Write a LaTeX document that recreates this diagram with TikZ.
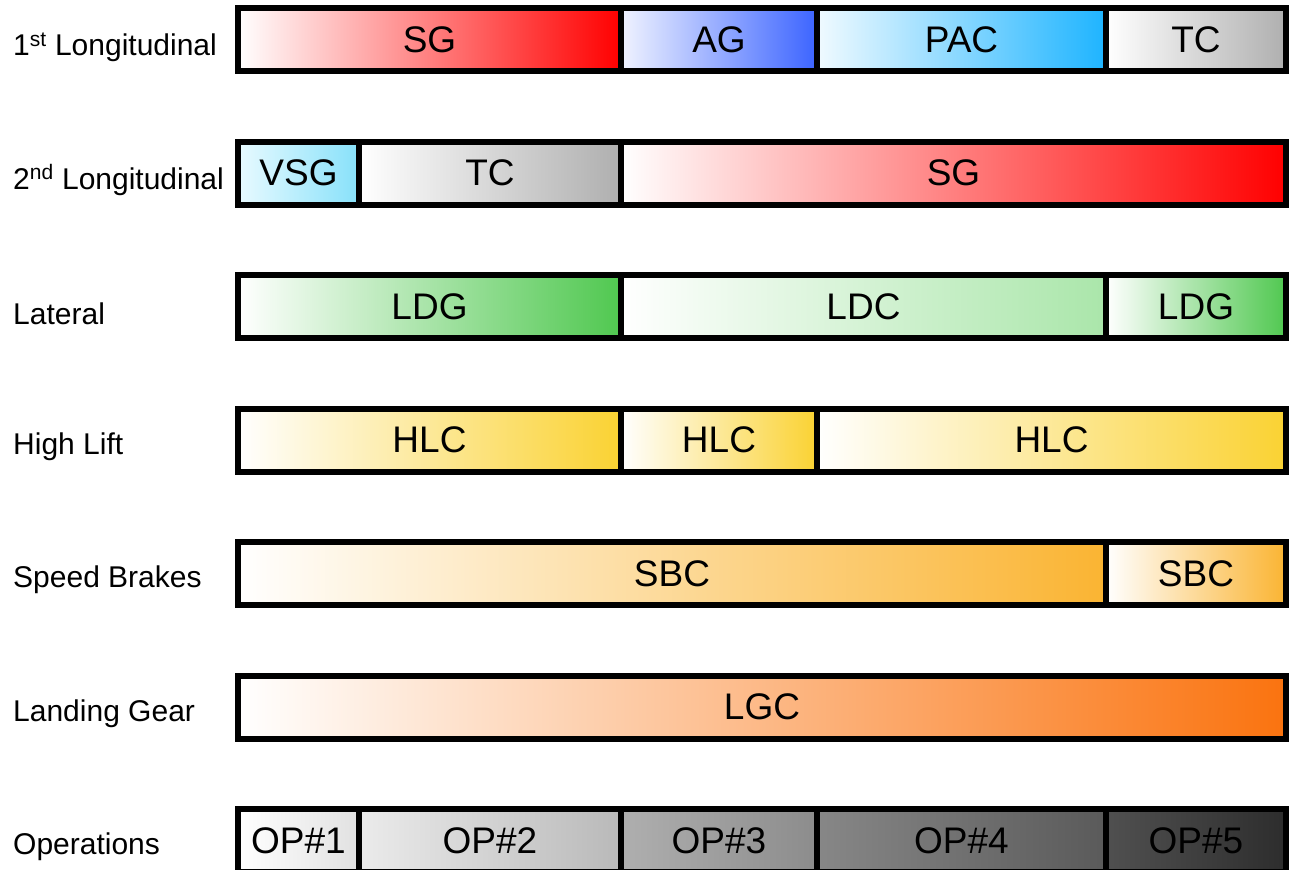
\documentclass[tikz,border=0pt]{standalone}
\usepackage{fontspec}
\setmainfont{Liberation Sans}
\begin{document}
\begin{tikzpicture}[x=1pt,y=-1pt,
  seg/.style={draw=black, line width=6pt, inner sep=0pt, outer sep=0pt,
    anchor=north west, minimum height=63pt, font=\fontsize{37}{40}\selectfont},
  rowlabel/.style={anchor=west, inner sep=0pt, font=\fontsize{30}{34}\selectfont},
  sg/.style={left color=white, right color=red},
  ag/.style={left color={rgb,255:red,240;green,243;blue,255}, right color={rgb,255:red,60;green,100;blue,255}},
  pac/.style={left color={rgb,255:red,240;green,250;blue,255}, right color={rgb,255:red,30;green,180;blue,255}},
  tc/.style={left color=white, right color={rgb,255:red,175;green,175;blue,175}},
  vsg/.style={left color={rgb,255:red,232;green,250;blue,255}, right color={rgb,255:red,135;green,225;blue,250}},
  ldg/.style={left color=white, right color={rgb,255:red,80;green,200;blue,80}},
  ldc/.style={left color=white, right color={rgb,255:red,170;green,230;blue,170}},
  hlc/.style={left color=white, right color={rgb,255:red,250;green,210;blue,50}},
  sbc/.style={left color=white, right color={rgb,255:red,250;green,180;blue,50}},
  lgc/.style={left color=white, right color={rgb,255:red,250;green,115;blue,15}},
]
\useasboundingbox (0,0) rectangle (1291,870);

% column edges: 238, 359, 621, 817, 1106, 1286
% row tops: 8, 141.5, 275, 408.5, 542, 675.5, 809

% row labels
\node[rowlabel] (l1) at (13,47) {1\textsuperscript{st} Longitudinal};
\node[rowlabel] (l2) at (13,180) {2\textsuperscript{nd} Longitudinal};
\node[rowlabel] (l3) at (13,314) {Lateral};
\node[rowlabel] (l4) at (13,447) {High Lift};
\node[rowlabel] (l5) at (13,580) {Speed Brakes};
\node[rowlabel] (l6) at (13,714) {Landing Gear};
\node[rowlabel] (l7) at (13,847) {Operations};

% 1st longitudinal
\node[seg, sg,  minimum width=383pt] (a1) at (238,8) {SG};
\node[seg, ag,  minimum width=196pt] (a2) at (621,8) {AG};
\node[seg, pac, minimum width=289pt] (a3) at (817,8) {PAC};
\node[seg, tc,  minimum width=180pt] (a4) at (1106,8) {TC};

% 2nd longitudinal
\node[seg, vsg, minimum width=121pt] (b1) at (238,141.5) {VSG};
\node[seg, tc,  minimum width=262pt] (b2) at (359,141.5) {TC};
\node[seg, sg,  minimum width=665pt] (b3) at (621,141.5) {SG};

% lateral
\node[seg, ldg, minimum width=383pt] (c1) at (238,275) {LDG};
\node[seg, ldc, minimum width=485pt] (c2) at (621,275) {LDC};
\node[seg, ldg, minimum width=180pt] (c3) at (1106,275) {LDG};

% high lift
\node[seg, hlc, minimum width=383pt] (d1) at (238,408.5) {HLC};
\node[seg, hlc, minimum width=196pt] (d2) at (621,408.5) {HLC};
\node[seg, hlc, minimum width=469pt] (d3) at (817,408.5) {HLC};

% speed brakes
\node[seg, sbc, minimum width=868pt] (e1) at (238,542) {SBC};
\node[seg, sbc, minimum width=180pt] (e2) at (1106,542) {SBC};

% landing gear
\node[seg, lgc, minimum width=1048pt] (f1) at (238,675.5) {LGC};

% operations
\node[seg, left color=white, right color={rgb,255:red,225;green,225;blue,225}, minimum width=121pt] (g1) at (238,809) {OP\#1};
\node[seg, left color={rgb,255:red,235;green,235;blue,235}, right color={rgb,255:red,185;green,185;blue,185}, minimum width=262pt] (g2) at (359,809) {OP\#2};
\node[seg, left color={rgb,255:red,175;green,175;blue,175}, right color={rgb,255:red,140;green,140;blue,140}, minimum width=196pt] (g3) at (621,809) {OP\#3};
\node[seg, left color={rgb,255:red,135;green,135;blue,135}, right color={rgb,255:red,90;green,90;blue,90}, minimum width=289pt] (g4) at (817,809) {OP\#4};
\node[seg, left color={rgb,255:red,80;green,80;blue,80}, right color={rgb,255:red,45;green,45;blue,45}, minimum width=180pt] (g5) at (1106,809) {OP\#5};
\end{tikzpicture}
\end{document}
